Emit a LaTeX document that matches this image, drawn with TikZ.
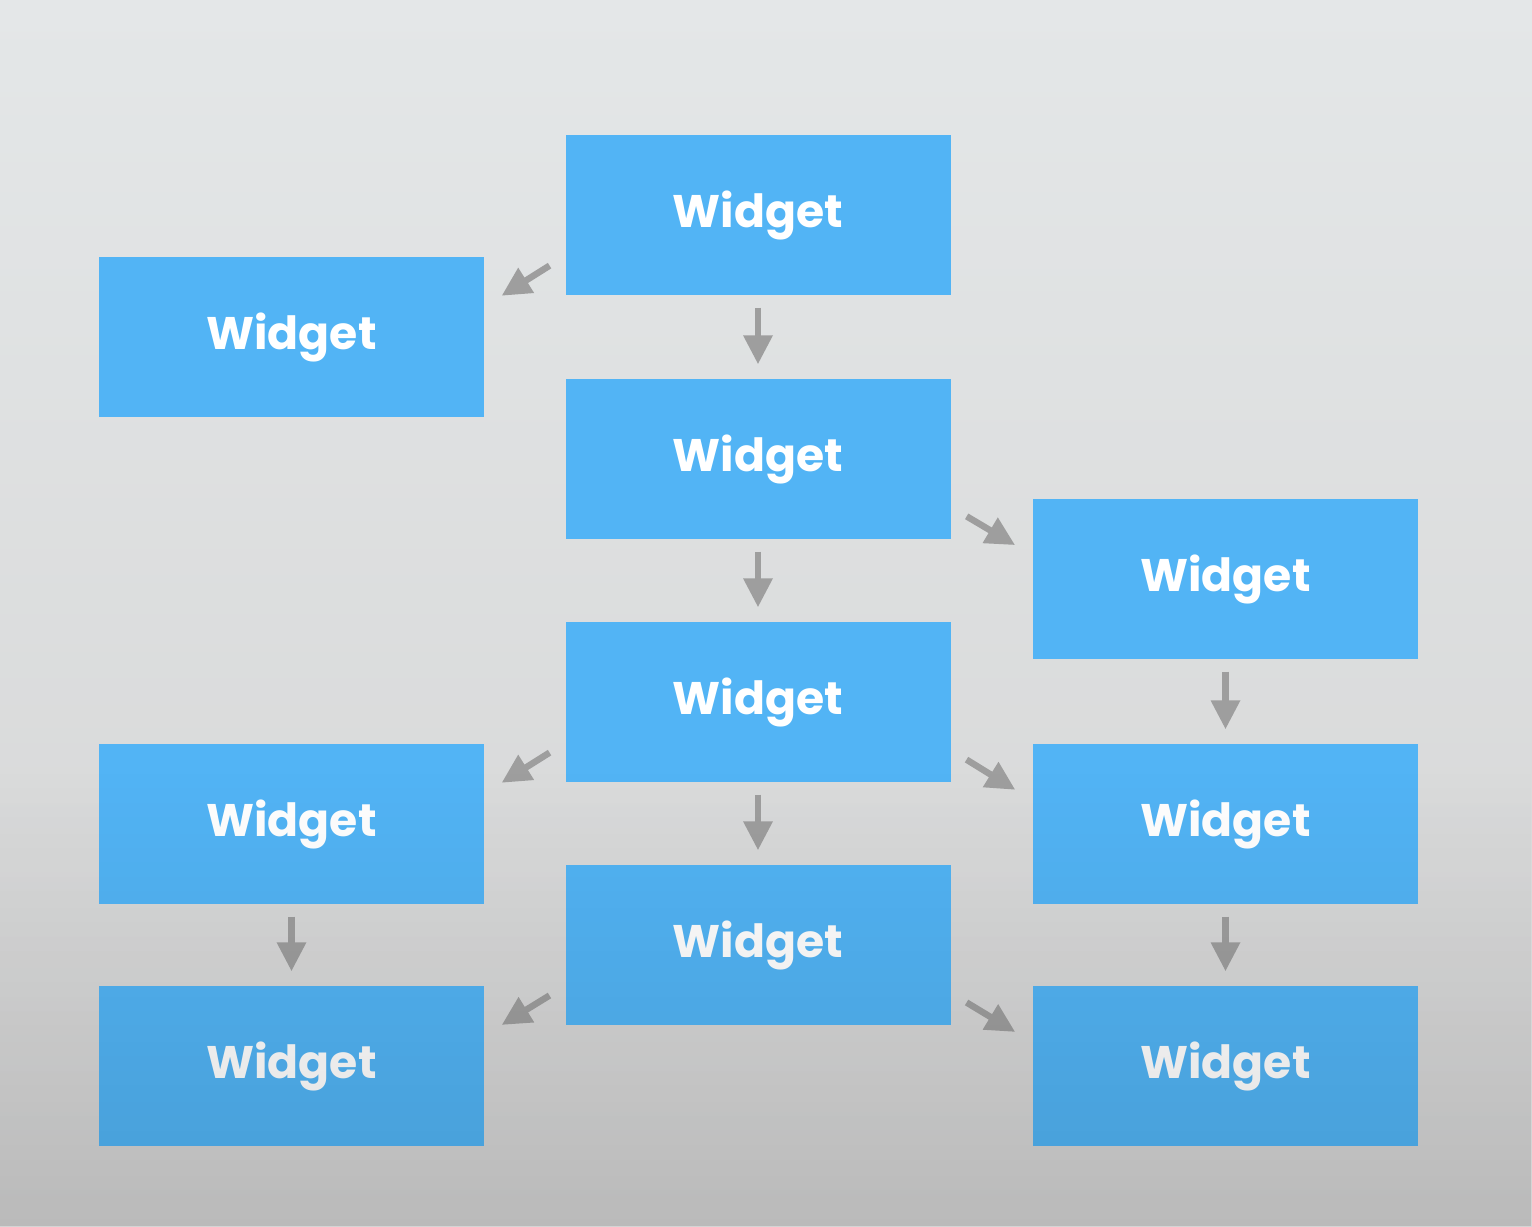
\documentclass[tikz,border=0pt]{standalone}
\usepackage{fontspec}
\setmainfont{Poppins}
\usetikzlibrary{arrows.meta,fadings}
\definecolor{wblue}{HTML}{52B4F5}
\definecolor{bgtop}{HTML}{E4E7E8}
\definecolor{bgmid}{HTML}{E0E2E3}
\definecolor{bgbot}{HTML}{D4D4D4}
\definecolor{agray}{HTML}{9E9E9E}
\tikzfading[name=fadeup, top color=transparent!100, bottom color=transparent!0]
\begin{document}
\begin{tikzpicture}[widget/.style={fill=wblue, minimum width=3.85cm, minimum height=1.6cm, inner sep=0pt, text=white, font=\bfseries\fontsize{13}{16}\selectfont},
  arr/.style={draw=agray, line width=.065cm, -{Triangle[length=.29cm,width=.28cm]}, shorten <=.12cm, shorten >=.14cm},
  darr/.style={arr, shorten <=.18cm, shorten >=.2cm}]
\useasboundingbox (0,0) rectangle (15.32,12.26);
\shade[top color=bgtop, middle color=bgmid, bottom color=bgbot] (0,0) rectangle (15.32,12.26);
\node[widget] (w1) at (7.58,10.11) {Widget}; \node[widget] (w2) at (7.58,7.67) {Widget};
\node[widget] (w3) at (7.58,5.24) {Widget}; \node[widget] (w4) at (7.58,2.81) {Widget};
\node[widget] (l1) at (2.915,8.89) {Widget}; \node[widget] (l2) at (2.915,4.02) {Widget}; \node[widget] (l3) at (2.915,1.60) {Widget};
\node[widget] (r1) at (12.255,6.47) {Widget}; \node[widget] (r2) at (12.255,4.02) {Widget}; \node[widget] (r3) at (12.255,1.60) {Widget};
\foreach \a/\b in {w1/w2,w2/w3,w3/w4,l2/l3,r1/r2,r2/r3} \draw[arr] (\a)--(\b);
\draw[darr] (w1.192)--(l1.9); \draw[darr] (w3.192)--(l2.9); \draw[darr] (w4.192)--(l3.9);
\draw[darr] (w2.-14)--(r1.173); \draw[darr] (w3.-14)--(r2.173); \draw[darr] (w4.-14)--(r3.173);
% darker band at the foot
\fill[black, opacity=.12, path fading=fadeup] (0,0) rectangle (15.32,4.6);
\end{tikzpicture}
\end{document}
